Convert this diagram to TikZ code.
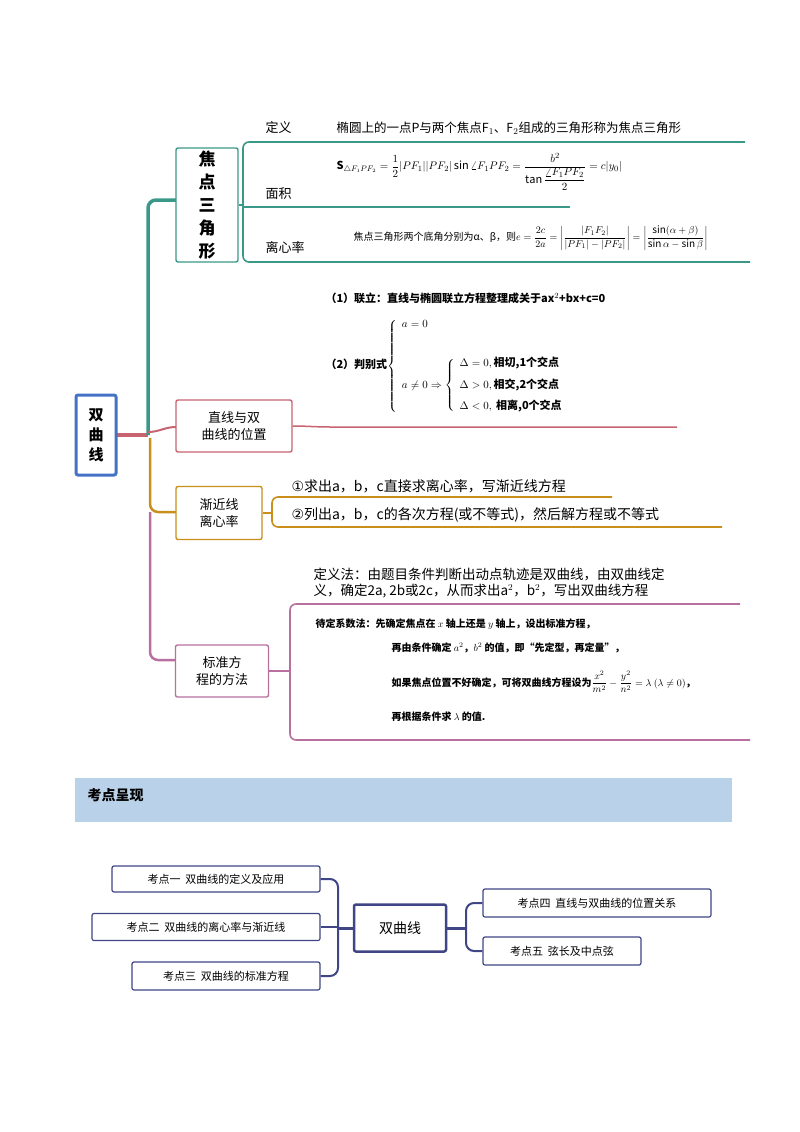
\documentclass[tikz,border=0pt]{standalone}
\usepackage{amsmath}
\usepackage{fontspec}
\setmainfont{Noto Sans CJK SC}
\newfontfamily\sym{DejaVu Sans}
\definecolor{teal1}{HTML}{3A9888}
\definecolor{red1}{HTML}{C86470}
\definecolor{gold1}{HTML}{C8901A}
\definecolor{pink1}{HTML}{B870A0}
\definecolor{navy1}{HTML}{3F4585}
\definecolor{blue1}{HTML}{4472C4}
\definecolor{band}{HTML}{B9D1E9}
\begin{document}
\begin{tikzpicture}[x=1pt,y=-1pt,
  bx/.style={draw,rounded corners=2pt,line width=1.4pt,fill=white,align=center,inner sep=0pt},
  br/.style={line width=1.6pt,rounded corners=6pt},
  lb/.style={font=\fontsize{13}{15}\selectfont,anchor=west},
  sm/.style={font=\fontsize{11}{13}\selectfont,anchor=west},
  dd/.style={anchor=west,font=\bfseries\fontsize{10}{12}\selectfont},
  kd/.style={draw=navy1,line width=1.2pt,rounded corners=2pt,fill=white,font=\fontsize{11}{13}\selectfont,inner sep=0pt}]
\useasboundingbox (0,0) rectangle (800,1132);
% trunk
\draw[red1,line width=4pt] (116,435) -- (148,435);
\draw[teal1,line width=3.5pt,rounded corners=8pt] (148,435) -- (148,200) -- (176,200);
\draw[red1,line width=2pt] (148,432) to[out=0,in=180] (176,427);
\draw[gold1,line width=2.5pt,rounded corners=8pt] (150,438) -- (150,512) -- (176,512);
\draw[pink1,line width=2.5pt,rounded corners=8pt] (150,512) -- (150,660) -- (176,660);
% root
\node[bx,draw=blue1,line width=3pt,minimum width=40pt,minimum height=80pt,font=\bfseries\fontsize{15}{20}\selectfont] (root) at (96,435) {双\\曲\\线};
% focal triangle
\node[bx,draw=teal1,minimum width=62pt,minimum height=114pt,font=\bfseries\fontsize{17}{23}\selectfont] (jd) at (207,205) {焦\\点\\三\\角\\形};
\draw[teal1,line width=2pt] (jd.east) -- (243,205);
\draw[teal1,br] (745,142) -- (243,142) -- (243,262) -- (750,262);
\draw[teal1,line width=1.6pt] (243,207) -- (570,207);
\node[lb] (d1) at (262,128) {定义};
\node[lb] (d2) at (262,194) {面积};
\node[lb] (d3) at (262,248) {离心率};
\node[sm,font=\fontsize{12.5}{14}\selectfont] (t1) at (333,128) {椭圆上的一点P与两个焦点F$_1$、F$_2$组成的三角形称为焦点三角形};
\node[anchor=west,font=\fontsize{11}{13}\selectfont] (t2) at (333,172) {$\mathbf{S}_{\triangle F_1PF_2}=\dfrac{1}{2}|PF_1||PF_2|\sin\angle F_1PF_2=\dfrac{b^2}{\tan\dfrac{\angle F_1PF_2}{2}}=c|y_0|$};
\node[anchor=west,font=\fontsize{10}{12}\selectfont] (t3) at (350,238) {焦点三角形两个底角分别为α、β，则$e=\dfrac{2c}{2a}=\left|\dfrac{|F_1F_2|}{|PF_1|-|PF_2|}\right|=\left|\dfrac{\sin(\alpha+\beta)}{\sin\alpha-\sin\beta}\right|$};
% line position
\node[bx,draw=red1,minimum width=116pt,minimum height=52pt,font=\fontsize{13}{17}\selectfont] (zx) at (234,426) {直线与双\\曲线的位置};
\draw[red1,line width=1.5pt] (zx.east) to[out=0,in=180] (330,427) -- (677,427);
\node[dd,font=\bfseries\fontsize{11}{13}\selectfont] (p1) at (322,298) {（1）联立：直线与椭圆联立方程整理成关于ax$^2$+bx+c=0};
\node[dd,font=\bfseries\fontsize{11}{13}\selectfont] (p2) at (322,366) {（2）判别式$\left\{\begin{array}{l}a=0\\[26pt] a\neq0\Rightarrow\left\{\begin{array}{l}\Delta=0,\text{相切,1个交点}\\[8pt]\Delta>0,\text{相交,2个交点}\\[8pt]\Delta<0,\ \text{相离,0个交点}\end{array}\right.\end{array}\right.$};
% asymptote
\node[bx,draw=gold1,minimum width=86pt,minimum height=53pt,font=\fontsize{13}{17}\selectfont] (jj) at (219,513) {渐近线\\离心率};
\draw[gold1,line width=2pt] (jj.east) -- (272,513);
\draw[gold1,br] (612,497) -- (272,497) -- (272,527) -- (722,527);
\node[lb,font=\fontsize{14}{16}\selectfont] (q1) at (288,486) {{\sym ①}求出a，b，c直接求离心率，写渐近线方程};
\node[lb,font=\fontsize{14}{16}\selectfont] (q2) at (288,515) {{\sym ②}列出a，b，c的各次方程(或不等式)，然后解方程或不等式};
% standard eq
\node[bx,draw=pink1,minimum width=93pt,minimum height=52pt,font=\fontsize{13}{17}\selectfont] (bz) at (222,671) {标准方\\程的方法};
\draw[pink1,line width=2pt] (bz.east) -- (290,671);
\draw[pink1,br] (740,604) -- (290,604) -- (290,740) -- (750,740);
\node[anchor=west,align=left,font=\fontsize{13.5}{16}\selectfont] (s1) at (310,583) {定义法：由题目条件判断出动点轨迹是双曲线，由双曲线定\\义，确定2a, 2b或2c，从而求出a$^2$，b$^2$，写出双曲线方程};
\node[dd] (s2) at (312,624) {待定系数法：先确定焦点在 $x$ 轴上还是 $y$ 轴上，设出标准方程，};
\node[dd] (s3) at (388,648) {再由条件确定 $a^2$，$b^2$ 的值，即“先定型，再定量”，};
\node[dd] (s4) at (388,682) {如果焦点位置不好确定，可将双曲线方程设为$\dfrac{x^2}{m^2}-\dfrac{y^2}{n^2}=\lambda\ (\lambda\neq0)$，};
\node[dd] (s5) at (388,717) {再根据条件求 $\lambda$ 的值.};
% banner
\fill[band] (75,778) rectangle (732,822);
\node[anchor=west,font=\bfseries\fontsize{14}{16}\selectfont] (ban) at (84,795) {考点呈现};
% bottom map
\node[kd,line width=2.5pt,minimum width=92pt,minimum height=47pt,font=\fontsize{14}{16}\selectfont] (c) at (400,928) {双曲线};
\node[kd,minimum width=208pt,minimum height=26pt] (k1) at (216,879) {考点一\ \ 双曲线的定义及应用};
\node[kd,minimum width=228pt,minimum height=27pt] (k2) at (206,927) {考点二\ \ 双曲线的离心率与渐近线};
\node[kd,minimum width=188pt,minimum height=28pt] (k3) at (226,976) {考点三\ \ 双曲线的标准方程};
\node[kd,minimum width=228pt,minimum height=28pt] (k4) at (597,903) {考点四\ \ 直线与双曲线的位置关系};
\node[kd,minimum width=158pt,minimum height=28pt] (k5) at (562,951) {考点五\ \ 弦长及中点弦};
\draw[navy1,line width=3pt] (c.west) -- (338,928);
\draw[navy1,line width=2pt,rounded corners=8pt] (k1.east) -- (338,879) -- (338,976) -- (k3.east);
\draw[navy1,line width=2pt] (k2.east) -- (338,927);
\draw[navy1,line width=3pt] (c.east) -- (466,928);
\draw[navy1,line width=2pt,rounded corners=8pt] (k4.west) -- (466,903) -- (466,951) -- (k5.west);
\end{tikzpicture}
\end{document}
